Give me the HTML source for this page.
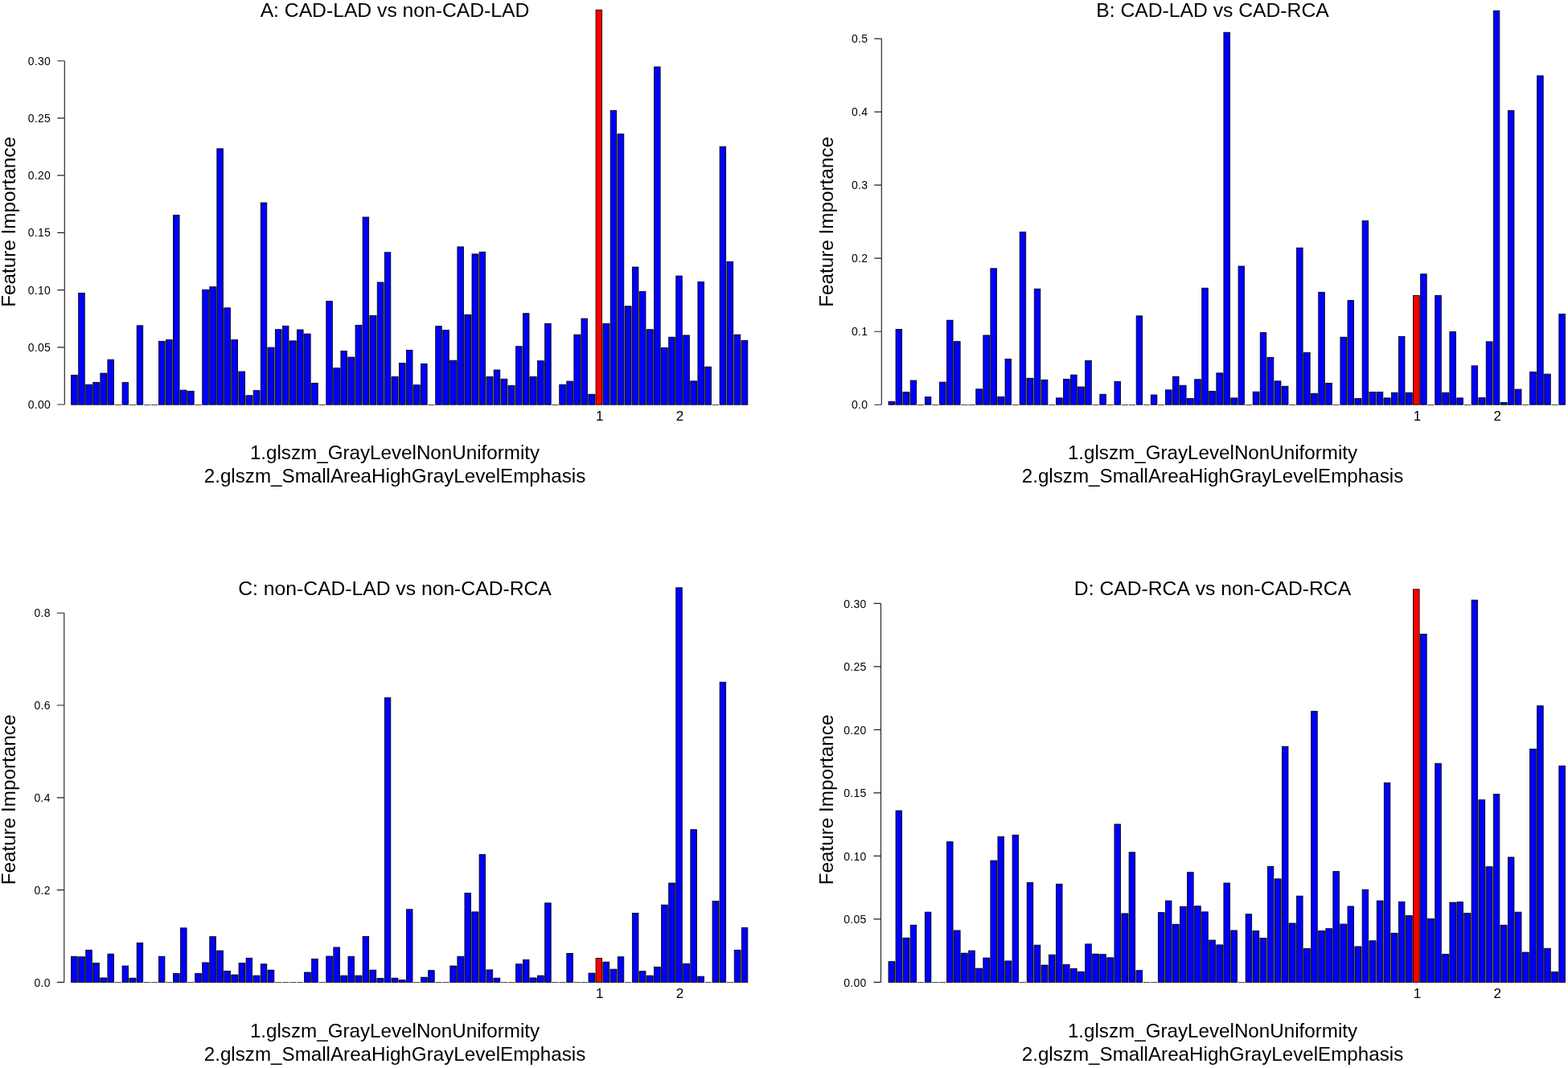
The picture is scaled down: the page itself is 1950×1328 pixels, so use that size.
<!DOCTYPE html>
<html lang="en"><head><meta charset="utf-8"><title>Feature Importance</title>
<style>html,body{margin:0;padding:0;background:#fff}body{width:1950px;height:1328px;overflow:hidden}svg{display:block}text{font-kerning:none;font-family:"Liberation Sans",sans-serif;fill:#000}.t{font-size:24.2px;text-anchor:middle}.s{font-size:14px;letter-spacing:.3px}.h{font-size:24.7px;text-anchor:middle}.x{font-size:17px;text-anchor:middle}.b{fill:#0000ff;stroke:#000;stroke-width:.85}.r{fill:#ff0000;stroke:#000;stroke-width:.85}.g{fill:#a29d5c}.z{stroke:#4a4a4a;stroke-width:1}.ax{stroke:#222;stroke-width:1.15;fill:none}</style></head><body>
<svg width="1950" height="1328" viewBox="0 0 1950 1328">
<rect x="0" y="0" width="1950" height="1328" fill="#ffffff"/>
<g>
<text class="h" x="491.0" y="21.1">A: CAD-LAD vs non-CAD-LAD</text>
<text class="t" style="font-size:24.25px" transform="translate(19.3 275.9) rotate(-90)">Feature Importance</text>
<path class="ax" d="M80.3 75.7V503.0M80.3 503.0h-9M80.3 431.8h-9M80.3 360.6h-9M80.3 289.3h-9M80.3 218.1h-9M80.3 146.9h-9M80.3 75.7h-9"/>
<text class="s" text-anchor="end" x="63.1" y="508.1">0.00</text>
<text class="s" text-anchor="end" x="63.1" y="436.9">0.05</text>
<text class="s" text-anchor="end" x="63.1" y="365.7">0.10</text>
<text class="s" text-anchor="end" x="63.1" y="294.4">0.15</text>
<text class="s" text-anchor="end" x="63.1" y="223.2">0.20</text>
<text class="s" text-anchor="end" x="63.1" y="152.0">0.25</text>
<text class="s" text-anchor="end" x="63.1" y="80.8">0.30</text>
<rect class="g" x="96.18" y="466.41" width="1.51" height="37.09"/>
<rect class="g" x="105.24" y="478.21" width="1.51" height="25.29"/>
<rect class="g" x="114.30" y="478.21" width="1.51" height="25.29"/>
<rect class="g" x="123.36" y="475.38" width="1.51" height="28.12"/>
<rect class="g" x="132.43" y="464.10" width="1.51" height="39.40"/>
<rect class="g" x="204.92" y="424.36" width="1.51" height="79.14"/>
<rect class="g" x="213.98" y="422.56" width="1.51" height="80.94"/>
<rect class="g" x="223.04" y="485.13" width="1.51" height="18.37"/>
<rect class="g" x="232.10" y="486.41" width="1.51" height="17.09"/>
<rect class="g" x="259.29" y="360.26" width="1.51" height="143.24"/>
<rect class="g" x="268.35" y="356.67" width="1.51" height="146.83"/>
<rect class="g" x="277.41" y="382.82" width="1.51" height="120.68"/>
<rect class="g" x="286.47" y="422.56" width="1.51" height="80.94"/>
<rect class="g" x="295.53" y="462.05" width="1.51" height="41.45"/>
<rect class="g" x="304.59" y="491.79" width="1.51" height="11.71"/>
<rect class="g" x="313.66" y="491.79" width="1.51" height="11.71"/>
<rect class="g" x="322.72" y="485.64" width="1.51" height="17.86"/>
<rect class="g" x="331.78" y="432.05" width="1.51" height="71.45"/>
<rect class="g" x="340.84" y="432.05" width="1.51" height="71.45"/>
<rect class="g" x="349.90" y="409.74" width="1.51" height="93.76"/>
<rect class="g" x="358.96" y="423.85" width="1.51" height="79.65"/>
<rect class="g" x="368.03" y="423.85" width="1.51" height="79.65"/>
<rect class="g" x="377.09" y="415.13" width="1.51" height="88.37"/>
<rect class="g" x="386.15" y="476.41" width="1.51" height="27.09"/>
<rect class="g" x="413.33" y="457.69" width="1.51" height="45.81"/>
<rect class="g" x="422.39" y="457.69" width="1.51" height="45.81"/>
<rect class="g" x="431.46" y="444.10" width="1.51" height="59.40"/>
<rect class="g" x="440.52" y="444.10" width="1.51" height="59.40"/>
<rect class="g" x="449.58" y="404.36" width="1.51" height="99.14"/>
<rect class="g" x="458.64" y="392.31" width="1.51" height="111.19"/>
<rect class="g" x="467.70" y="392.31" width="1.51" height="111.19"/>
<rect class="g" x="476.76" y="351.03" width="1.51" height="152.47"/>
<rect class="g" x="485.82" y="468.46" width="1.51" height="35.04"/>
<rect class="g" x="494.89" y="468.46" width="1.51" height="35.04"/>
<rect class="g" x="503.95" y="451.54" width="1.51" height="51.96"/>
<rect class="g" x="513.01" y="478.72" width="1.51" height="24.78"/>
<rect class="g" x="522.07" y="478.72" width="1.51" height="24.78"/>
<rect class="g" x="549.25" y="410.51" width="1.51" height="92.99"/>
<rect class="g" x="558.32" y="448.21" width="1.51" height="55.29"/>
<rect class="g" x="567.38" y="448.21" width="1.51" height="55.29"/>
<rect class="g" x="576.44" y="391.28" width="1.51" height="112.22"/>
<rect class="g" x="585.50" y="391.28" width="1.51" height="112.22"/>
<rect class="g" x="594.56" y="315.90" width="1.51" height="187.60"/>
<rect class="g" x="603.62" y="468.46" width="1.51" height="35.04"/>
<rect class="g" x="612.69" y="468.46" width="1.51" height="35.04"/>
<rect class="g" x="621.75" y="471.28" width="1.51" height="32.22"/>
<rect class="g" x="630.81" y="479.49" width="1.51" height="24.01"/>
<rect class="g" x="639.87" y="479.49" width="1.51" height="24.01"/>
<rect class="g" x="648.93" y="430.77" width="1.51" height="72.73"/>
<rect class="g" x="657.99" y="468.46" width="1.51" height="35.04"/>
<rect class="g" x="667.05" y="468.46" width="1.51" height="35.04"/>
<rect class="g" x="676.12" y="448.72" width="1.51" height="54.78"/>
<rect class="g" x="703.30" y="478.21" width="1.51" height="25.29"/>
<rect class="g" x="712.36" y="474.10" width="1.51" height="29.40"/>
<rect class="g" x="721.42" y="416.15" width="1.51" height="87.35"/>
<rect class="g" x="730.49" y="490.26" width="1.51" height="13.24"/>
<rect class="g" x="739.55" y="490.26" width="1.51" height="13.24"/>
<rect class="g" x="748.61" y="402.31" width="1.51" height="101.19"/>
<rect class="g" x="757.67" y="402.31" width="1.51" height="101.19"/>
<rect class="g" x="766.73" y="166.67" width="1.51" height="336.83"/>
<rect class="g" x="775.79" y="380.77" width="1.51" height="122.73"/>
<rect class="g" x="784.85" y="380.77" width="1.51" height="122.73"/>
<rect class="g" x="793.92" y="362.56" width="1.51" height="140.94"/>
<rect class="g" x="802.98" y="409.74" width="1.51" height="93.76"/>
<rect class="g" x="812.04" y="409.74" width="1.51" height="93.76"/>
<rect class="g" x="821.10" y="432.31" width="1.51" height="71.19"/>
<rect class="g" x="830.16" y="432.31" width="1.51" height="71.19"/>
<rect class="g" x="839.22" y="419.23" width="1.51" height="84.27"/>
<rect class="g" x="848.28" y="416.92" width="1.51" height="86.58"/>
<rect class="g" x="857.35" y="473.85" width="1.51" height="29.65"/>
<rect class="g" x="866.41" y="473.85" width="1.51" height="29.65"/>
<rect class="g" x="875.47" y="456.15" width="1.51" height="47.35"/>
<rect class="g" x="902.65" y="325.38" width="1.51" height="178.12"/>
<rect class="g" x="911.72" y="416.15" width="1.51" height="87.35"/>
<rect class="g" x="920.78" y="423.33" width="1.51" height="80.17"/>
<rect class="b" x="88.63" y="466.41" width="7.55" height="36.79"/>
<rect class="b" x="97.69" y="364.36" width="7.55" height="138.84"/>
<rect class="b" x="106.75" y="478.21" width="7.55" height="24.99"/>
<rect class="b" x="115.81" y="475.38" width="7.55" height="27.82"/>
<rect class="b" x="124.88" y="464.10" width="7.55" height="39.10"/>
<rect class="b" x="133.94" y="447.18" width="7.55" height="56.02"/>
<line class="z" x1="142.70" y1="503.5" x2="150.85" y2="503.5"/>
<rect class="b" x="152.06" y="475.64" width="7.55" height="27.56"/>
<line class="z" x1="160.82" y1="503.5" x2="168.97" y2="503.5"/>
<rect class="b" x="170.18" y="404.87" width="7.55" height="98.33"/>
<line class="z" x1="178.94" y1="503.5" x2="187.10" y2="503.5"/>
<line class="z" x1="188.01" y1="503.5" x2="196.16" y2="503.5"/>
<rect class="b" x="197.37" y="424.36" width="7.55" height="78.84"/>
<rect class="b" x="206.43" y="422.56" width="7.55" height="80.64"/>
<rect class="b" x="215.49" y="267.44" width="7.55" height="235.76"/>
<rect class="b" x="224.55" y="485.13" width="7.55" height="18.07"/>
<rect class="b" x="233.61" y="486.41" width="7.55" height="16.79"/>
<line class="z" x1="242.38" y1="503.5" x2="250.53" y2="503.5"/>
<rect class="b" x="251.74" y="360.26" width="7.55" height="142.94"/>
<rect class="b" x="260.80" y="356.67" width="7.55" height="146.53"/>
<rect class="b" x="269.86" y="184.87" width="7.55" height="318.33"/>
<rect class="b" x="278.92" y="382.82" width="7.55" height="120.38"/>
<rect class="b" x="287.98" y="422.56" width="7.55" height="80.64"/>
<rect class="b" x="297.04" y="462.05" width="7.55" height="41.15"/>
<rect class="b" x="306.11" y="491.79" width="7.55" height="11.41"/>
<rect class="b" x="315.17" y="485.64" width="7.55" height="17.56"/>
<rect class="b" x="324.23" y="252.05" width="7.55" height="251.15"/>
<rect class="b" x="333.29" y="432.05" width="7.55" height="71.15"/>
<rect class="b" x="342.35" y="409.74" width="7.55" height="93.46"/>
<rect class="b" x="351.41" y="405.38" width="7.55" height="97.82"/>
<rect class="b" x="360.48" y="423.85" width="7.55" height="79.35"/>
<rect class="b" x="369.54" y="410.00" width="7.55" height="93.20"/>
<rect class="b" x="378.60" y="415.13" width="7.55" height="88.07"/>
<rect class="b" x="387.66" y="476.41" width="7.55" height="26.79"/>
<line class="z" x1="396.42" y1="503.5" x2="404.57" y2="503.5"/>
<rect class="b" x="405.78" y="374.62" width="7.55" height="128.58"/>
<rect class="b" x="414.84" y="457.69" width="7.55" height="45.51"/>
<rect class="b" x="423.91" y="436.41" width="7.55" height="66.79"/>
<rect class="b" x="432.97" y="444.10" width="7.55" height="59.10"/>
<rect class="b" x="442.03" y="404.36" width="7.55" height="98.84"/>
<rect class="b" x="451.09" y="270.00" width="7.55" height="233.20"/>
<rect class="b" x="460.15" y="392.31" width="7.55" height="110.89"/>
<rect class="b" x="469.21" y="351.03" width="7.55" height="152.17"/>
<rect class="b" x="478.27" y="313.85" width="7.55" height="189.35"/>
<rect class="b" x="487.34" y="468.46" width="7.55" height="34.74"/>
<rect class="b" x="496.40" y="451.54" width="7.55" height="51.66"/>
<rect class="b" x="505.46" y="435.38" width="7.55" height="67.82"/>
<rect class="b" x="514.52" y="478.72" width="7.55" height="24.48"/>
<rect class="b" x="523.58" y="452.31" width="7.55" height="50.89"/>
<line class="z" x1="532.34" y1="503.5" x2="540.49" y2="503.5"/>
<rect class="b" x="541.71" y="405.64" width="7.55" height="97.56"/>
<rect class="b" x="550.77" y="410.51" width="7.55" height="92.69"/>
<rect class="b" x="559.83" y="448.21" width="7.55" height="54.99"/>
<rect class="b" x="568.89" y="306.92" width="7.55" height="196.28"/>
<rect class="b" x="577.95" y="391.28" width="7.55" height="111.92"/>
<rect class="b" x="587.01" y="315.90" width="7.55" height="187.30"/>
<rect class="b" x="596.07" y="313.33" width="7.55" height="189.87"/>
<rect class="b" x="605.14" y="468.46" width="7.55" height="34.74"/>
<rect class="b" x="614.20" y="460.00" width="7.55" height="43.20"/>
<rect class="b" x="623.26" y="471.28" width="7.55" height="31.92"/>
<rect class="b" x="632.32" y="479.49" width="7.55" height="23.71"/>
<rect class="b" x="641.38" y="430.77" width="7.55" height="72.43"/>
<rect class="b" x="650.44" y="389.74" width="7.55" height="113.46"/>
<rect class="b" x="659.50" y="468.46" width="7.55" height="34.74"/>
<rect class="b" x="668.57" y="448.72" width="7.55" height="54.48"/>
<rect class="b" x="677.63" y="402.31" width="7.55" height="100.89"/>
<line class="z" x1="686.39" y1="503.5" x2="694.54" y2="503.5"/>
<rect class="b" x="695.75" y="478.21" width="7.55" height="24.99"/>
<rect class="b" x="704.81" y="474.10" width="7.55" height="29.10"/>
<rect class="b" x="713.87" y="416.15" width="7.55" height="87.05"/>
<rect class="b" x="722.94" y="396.15" width="7.55" height="107.05"/>
<rect class="b" x="732.00" y="490.26" width="7.55" height="12.94"/>
<rect class="r" x="741.06" y="12.31" width="7.55" height="490.89"/>
<rect class="b" x="750.12" y="402.31" width="7.55" height="100.89"/>
<rect class="b" x="759.18" y="137.44" width="7.55" height="365.76"/>
<rect class="b" x="768.24" y="166.67" width="7.55" height="336.53"/>
<rect class="b" x="777.30" y="380.77" width="7.55" height="122.43"/>
<rect class="b" x="786.37" y="332.05" width="7.55" height="171.15"/>
<rect class="b" x="795.43" y="362.56" width="7.55" height="140.64"/>
<rect class="b" x="804.49" y="409.74" width="7.55" height="93.46"/>
<rect class="b" x="813.55" y="83.08" width="7.55" height="420.12"/>
<rect class="b" x="822.61" y="432.31" width="7.55" height="70.89"/>
<rect class="b" x="831.67" y="419.23" width="7.55" height="83.97"/>
<rect class="b" x="840.73" y="343.08" width="7.55" height="160.12"/>
<rect class="b" x="849.80" y="416.92" width="7.55" height="86.28"/>
<rect class="b" x="858.86" y="473.85" width="7.55" height="29.35"/>
<rect class="b" x="867.92" y="350.51" width="7.55" height="152.69"/>
<rect class="b" x="876.98" y="456.15" width="7.55" height="47.05"/>
<line class="z" x1="885.74" y1="503.5" x2="893.89" y2="503.5"/>
<rect class="b" x="895.10" y="182.31" width="7.55" height="320.89"/>
<rect class="b" x="904.17" y="325.38" width="7.55" height="177.82"/>
<rect class="b" x="913.23" y="416.15" width="7.55" height="87.05"/>
<rect class="b" x="922.29" y="423.33" width="7.55" height="79.87"/>
<text class="x" x="745.7" y="522.7">1</text>
<text class="x" x="845.4" y="522.7">2</text>
<text class="t" x="491.0" y="571.0">1.glszm_GrayLevelNonUniformity</text>
<text class="t" x="491.0" y="600.0">2.glszm_SmallAreaHighGrayLevelEmphasis</text>
</g>
<g>
<text class="h" x="1508.0" y="21.1">B: CAD-LAD vs CAD-RCA</text>
<text class="t" style="font-size:24.25px" transform="translate(1036.0 275.9) rotate(-90)">Feature Importance</text>
<path class="ax" d="M1096.3 48.1V503.2M1096.3 503.2h-9M1096.3 412.2h-9M1096.3 321.1h-9M1096.3 230.1h-9M1096.3 139.1h-9M1096.3 48.1h-9"/>
<text class="s" text-anchor="end" x="1079.4" y="508.3">0.0</text>
<text class="s" text-anchor="end" x="1079.4" y="417.3">0.1</text>
<text class="s" text-anchor="end" x="1079.4" y="326.2">0.2</text>
<text class="s" text-anchor="end" x="1079.4" y="235.2">0.3</text>
<text class="s" text-anchor="end" x="1079.4" y="144.2">0.4</text>
<text class="s" text-anchor="end" x="1079.4" y="53.2">0.5</text>
<rect class="g" x="1112.55" y="499.23" width="1.51" height="4.27"/>
<rect class="g" x="1121.61" y="487.69" width="1.51" height="15.81"/>
<rect class="g" x="1130.68" y="487.69" width="1.51" height="15.81"/>
<rect class="g" x="1175.99" y="475.13" width="1.51" height="28.37"/>
<rect class="g" x="1185.06" y="424.62" width="1.51" height="78.88"/>
<rect class="g" x="1221.31" y="483.85" width="1.51" height="19.65"/>
<rect class="g" x="1230.38" y="416.92" width="1.51" height="86.58"/>
<rect class="g" x="1239.44" y="493.33" width="1.51" height="10.17"/>
<rect class="g" x="1248.50" y="493.33" width="1.51" height="10.17"/>
<rect class="g" x="1275.69" y="470.26" width="1.51" height="33.24"/>
<rect class="g" x="1284.76" y="470.26" width="1.51" height="33.24"/>
<rect class="g" x="1293.82" y="472.31" width="1.51" height="31.19"/>
<rect class="g" x="1321.01" y="494.87" width="1.51" height="8.63"/>
<rect class="g" x="1330.07" y="471.54" width="1.51" height="31.96"/>
<rect class="g" x="1339.14" y="481.03" width="1.51" height="22.47"/>
<rect class="g" x="1348.20" y="481.03" width="1.51" height="22.47"/>
<rect class="g" x="1456.96" y="484.87" width="1.51" height="18.63"/>
<rect class="g" x="1466.03" y="479.23" width="1.51" height="24.27"/>
<rect class="g" x="1475.09" y="495.38" width="1.51" height="8.12"/>
<rect class="g" x="1484.15" y="495.38" width="1.51" height="8.12"/>
<rect class="g" x="1493.22" y="471.79" width="1.51" height="31.71"/>
<rect class="g" x="1502.28" y="486.41" width="1.51" height="17.09"/>
<rect class="g" x="1511.34" y="486.41" width="1.51" height="17.09"/>
<rect class="g" x="1520.41" y="463.85" width="1.51" height="39.65"/>
<rect class="g" x="1529.47" y="494.87" width="1.51" height="8.63"/>
<rect class="g" x="1538.53" y="494.87" width="1.51" height="8.63"/>
<rect class="g" x="1565.72" y="487.18" width="1.51" height="16.32"/>
<rect class="g" x="1574.79" y="444.36" width="1.51" height="59.14"/>
<rect class="g" x="1583.85" y="473.85" width="1.51" height="29.65"/>
<rect class="g" x="1592.92" y="480.26" width="1.51" height="23.24"/>
<rect class="g" x="1620.11" y="438.46" width="1.51" height="65.04"/>
<rect class="g" x="1629.17" y="489.23" width="1.51" height="14.27"/>
<rect class="g" x="1638.23" y="489.23" width="1.51" height="14.27"/>
<rect class="g" x="1647.30" y="476.41" width="1.51" height="27.09"/>
<rect class="g" x="1674.49" y="419.23" width="1.51" height="84.27"/>
<rect class="g" x="1683.55" y="495.38" width="1.51" height="8.12"/>
<rect class="g" x="1692.61" y="495.38" width="1.51" height="8.12"/>
<rect class="g" x="1701.68" y="487.44" width="1.51" height="16.06"/>
<rect class="g" x="1710.74" y="487.44" width="1.51" height="16.06"/>
<rect class="g" x="1719.80" y="494.87" width="1.51" height="8.63"/>
<rect class="g" x="1728.87" y="494.87" width="1.51" height="8.63"/>
<rect class="g" x="1737.93" y="488.21" width="1.51" height="15.29"/>
<rect class="g" x="1746.99" y="488.21" width="1.51" height="15.29"/>
<rect class="g" x="1756.06" y="488.21" width="1.51" height="15.29"/>
<rect class="g" x="1765.12" y="367.44" width="1.51" height="136.06"/>
<rect class="g" x="1792.31" y="488.21" width="1.51" height="15.29"/>
<rect class="g" x="1801.38" y="488.21" width="1.51" height="15.29"/>
<rect class="g" x="1810.44" y="494.87" width="1.51" height="8.63"/>
<rect class="g" x="1837.63" y="494.62" width="1.51" height="8.88"/>
<rect class="g" x="1846.69" y="494.62" width="1.51" height="8.88"/>
<rect class="g" x="1855.76" y="424.87" width="1.51" height="78.63"/>
<rect class="g" x="1864.82" y="500.51" width="1.51" height="2.99"/>
<rect class="g" x="1873.88" y="500.51" width="1.51" height="2.99"/>
<rect class="g" x="1882.95" y="484.10" width="1.51" height="19.40"/>
<rect class="g" x="1910.14" y="462.56" width="1.51" height="40.94"/>
<rect class="g" x="1919.20" y="465.13" width="1.51" height="38.37"/>
<rect class="b" x="1105.00" y="499.23" width="7.55" height="3.97"/>
<rect class="b" x="1114.06" y="409.49" width="7.55" height="93.71"/>
<rect class="b" x="1123.13" y="487.69" width="7.55" height="15.51"/>
<rect class="b" x="1132.19" y="473.08" width="7.55" height="30.12"/>
<line class="z" x1="1140.95" y1="503.5" x2="1149.10" y2="503.5"/>
<rect class="b" x="1150.32" y="493.59" width="7.55" height="9.61"/>
<line class="z" x1="1159.08" y1="503.5" x2="1167.23" y2="503.5"/>
<rect class="b" x="1168.44" y="475.13" width="7.55" height="28.07"/>
<rect class="b" x="1177.51" y="398.21" width="7.55" height="104.99"/>
<rect class="b" x="1186.57" y="424.62" width="7.55" height="78.58"/>
<line class="z" x1="1195.34" y1="503.5" x2="1203.48" y2="503.5"/>
<line class="z" x1="1204.40" y1="503.5" x2="1212.55" y2="503.5"/>
<rect class="b" x="1213.76" y="483.85" width="7.55" height="19.35"/>
<rect class="b" x="1222.83" y="416.92" width="7.55" height="86.28"/>
<rect class="b" x="1231.89" y="333.85" width="7.55" height="169.35"/>
<rect class="b" x="1240.95" y="493.33" width="7.55" height="9.87"/>
<rect class="b" x="1250.02" y="446.41" width="7.55" height="56.79"/>
<line class="z" x1="1258.78" y1="503.5" x2="1266.93" y2="503.5"/>
<rect class="b" x="1268.14" y="288.46" width="7.55" height="214.74"/>
<rect class="b" x="1277.21" y="470.26" width="7.55" height="32.94"/>
<rect class="b" x="1286.27" y="359.23" width="7.55" height="143.97"/>
<rect class="b" x="1295.33" y="472.31" width="7.55" height="30.89"/>
<line class="z" x1="1304.10" y1="503.5" x2="1312.25" y2="503.5"/>
<rect class="b" x="1313.46" y="494.87" width="7.55" height="8.33"/>
<rect class="b" x="1322.52" y="471.54" width="7.55" height="31.66"/>
<rect class="b" x="1331.59" y="466.15" width="7.55" height="37.05"/>
<rect class="b" x="1340.65" y="481.03" width="7.55" height="22.17"/>
<rect class="b" x="1349.71" y="448.46" width="7.55" height="54.74"/>
<line class="z" x1="1358.48" y1="503.5" x2="1366.63" y2="503.5"/>
<rect class="b" x="1367.84" y="490.26" width="7.55" height="12.94"/>
<line class="z" x1="1376.61" y1="503.5" x2="1384.75" y2="503.5"/>
<rect class="b" x="1385.97" y="474.36" width="7.55" height="28.84"/>
<line class="z" x1="1394.73" y1="503.5" x2="1402.88" y2="503.5"/>
<line class="z" x1="1403.80" y1="503.5" x2="1411.95" y2="503.5"/>
<rect class="b" x="1413.16" y="392.82" width="7.55" height="110.38"/>
<line class="z" x1="1421.92" y1="503.5" x2="1430.07" y2="503.5"/>
<rect class="b" x="1431.29" y="491.03" width="7.55" height="12.17"/>
<line class="z" x1="1440.05" y1="503.5" x2="1448.20" y2="503.5"/>
<rect class="b" x="1449.41" y="484.87" width="7.55" height="18.33"/>
<rect class="b" x="1458.48" y="468.21" width="7.55" height="34.99"/>
<rect class="b" x="1467.54" y="479.23" width="7.55" height="23.97"/>
<rect class="b" x="1476.60" y="495.38" width="7.55" height="7.82"/>
<rect class="b" x="1485.67" y="471.79" width="7.55" height="31.41"/>
<rect class="b" x="1494.73" y="358.21" width="7.55" height="144.99"/>
<rect class="b" x="1503.79" y="486.41" width="7.55" height="16.79"/>
<rect class="b" x="1512.86" y="463.85" width="7.55" height="39.35"/>
<rect class="b" x="1521.92" y="40.26" width="7.55" height="462.94"/>
<rect class="b" x="1530.98" y="494.87" width="7.55" height="8.33"/>
<rect class="b" x="1540.05" y="331.03" width="7.55" height="172.17"/>
<line class="z" x1="1548.81" y1="503.5" x2="1556.96" y2="503.5"/>
<rect class="b" x="1558.17" y="487.18" width="7.55" height="16.02"/>
<rect class="b" x="1567.24" y="413.59" width="7.55" height="89.61"/>
<rect class="b" x="1576.30" y="444.36" width="7.55" height="58.84"/>
<rect class="b" x="1585.37" y="473.85" width="7.55" height="29.35"/>
<rect class="b" x="1594.43" y="480.26" width="7.55" height="22.94"/>
<line class="z" x1="1603.19" y1="503.5" x2="1611.34" y2="503.5"/>
<rect class="b" x="1612.56" y="308.21" width="7.55" height="194.99"/>
<rect class="b" x="1621.62" y="438.46" width="7.55" height="64.74"/>
<rect class="b" x="1630.68" y="489.23" width="7.55" height="13.97"/>
<rect class="b" x="1639.75" y="363.33" width="7.55" height="139.87"/>
<rect class="b" x="1648.81" y="476.41" width="7.55" height="26.79"/>
<line class="z" x1="1657.57" y1="503.5" x2="1665.72" y2="503.5"/>
<rect class="b" x="1666.94" y="419.23" width="7.55" height="83.97"/>
<rect class="b" x="1676.00" y="373.59" width="7.55" height="129.61"/>
<rect class="b" x="1685.06" y="495.38" width="7.55" height="7.82"/>
<rect class="b" x="1694.13" y="274.62" width="7.55" height="228.58"/>
<rect class="b" x="1703.19" y="487.44" width="7.55" height="15.76"/>
<rect class="b" x="1712.25" y="487.44" width="7.55" height="15.76"/>
<rect class="b" x="1721.32" y="494.87" width="7.55" height="8.33"/>
<rect class="b" x="1730.38" y="488.21" width="7.55" height="14.99"/>
<rect class="b" x="1739.44" y="418.46" width="7.55" height="84.74"/>
<rect class="b" x="1748.51" y="488.21" width="7.55" height="14.99"/>
<rect class="r" x="1757.57" y="367.44" width="7.55" height="135.76"/>
<rect class="b" x="1766.64" y="340.77" width="7.55" height="162.43"/>
<line class="z" x1="1775.40" y1="503.5" x2="1783.55" y2="503.5"/>
<rect class="b" x="1784.76" y="367.44" width="7.55" height="135.76"/>
<rect class="b" x="1793.83" y="488.21" width="7.55" height="14.99"/>
<rect class="b" x="1802.89" y="412.56" width="7.55" height="90.64"/>
<rect class="b" x="1811.95" y="494.87" width="7.55" height="8.33"/>
<line class="z" x1="1820.72" y1="503.5" x2="1828.87" y2="503.5"/>
<rect class="b" x="1830.08" y="454.87" width="7.55" height="48.33"/>
<rect class="b" x="1839.14" y="494.62" width="7.55" height="8.58"/>
<rect class="b" x="1848.21" y="424.87" width="7.55" height="78.33"/>
<rect class="b" x="1857.27" y="13.33" width="7.55" height="489.87"/>
<rect class="b" x="1866.33" y="500.51" width="7.55" height="2.69"/>
<rect class="b" x="1875.40" y="137.44" width="7.55" height="365.76"/>
<rect class="b" x="1884.46" y="484.10" width="7.55" height="19.10"/>
<line class="z" x1="1893.22" y1="503.5" x2="1901.37" y2="503.5"/>
<rect class="b" x="1902.59" y="462.56" width="7.55" height="40.64"/>
<rect class="b" x="1911.65" y="94.10" width="7.55" height="409.10"/>
<rect class="b" x="1920.71" y="465.13" width="7.55" height="38.07"/>
<line class="z" x1="1929.48" y1="503.5" x2="1937.63" y2="503.5"/>
<rect class="b" x="1938.84" y="390.51" width="7.55" height="112.69"/>
<text class="x" x="1762.5" y="522.7">1</text>
<text class="x" x="1862.2" y="522.7">2</text>
<text class="t" x="1508.0" y="571.0">1.glszm_GrayLevelNonUniformity</text>
<text class="t" x="1508.0" y="600.0">2.glszm_SmallAreaHighGrayLevelEmphasis</text>
</g>
<g>
<text class="h" x="491.0" y="739.5">C: non-CAD-LAD vs non-CAD-RCA</text>
<text class="t" style="font-size:24.25px" transform="translate(19.3 994.4) rotate(-90)">Feature Importance</text>
<path class="ax" d="M79.8 762.2V1221.4M79.8 1221.4h-9M79.8 1106.6h-9M79.8 991.8h-9M79.8 877.0h-9M79.8 762.2h-9"/>
<text class="s" text-anchor="end" x="62.8" y="1226.5">0.0</text>
<text class="s" text-anchor="end" x="62.8" y="1111.7">0.2</text>
<text class="s" text-anchor="end" x="62.8" y="996.9">0.4</text>
<text class="s" text-anchor="end" x="62.8" y="882.1">0.6</text>
<text class="s" text-anchor="end" x="62.8" y="767.3">0.8</text>
<rect class="g" x="96.18" y="1189.79" width="1.51" height="31.91"/>
<rect class="g" x="105.24" y="1189.79" width="1.51" height="31.91"/>
<rect class="g" x="114.30" y="1197.49" width="1.51" height="24.21"/>
<rect class="g" x="123.36" y="1215.95" width="1.51" height="5.75"/>
<rect class="g" x="132.43" y="1215.95" width="1.51" height="5.75"/>
<rect class="g" x="159.61" y="1216.21" width="1.51" height="5.49"/>
<rect class="g" x="168.67" y="1216.21" width="1.51" height="5.49"/>
<rect class="g" x="223.04" y="1210.56" width="1.51" height="11.14"/>
<rect class="g" x="250.23" y="1210.56" width="1.51" height="11.14"/>
<rect class="g" x="259.29" y="1196.97" width="1.51" height="24.73"/>
<rect class="g" x="268.35" y="1182.10" width="1.51" height="39.60"/>
<rect class="g" x="277.41" y="1207.49" width="1.51" height="14.21"/>
<rect class="g" x="286.47" y="1212.10" width="1.51" height="9.60"/>
<rect class="g" x="295.53" y="1212.10" width="1.51" height="9.60"/>
<rect class="g" x="304.59" y="1197.49" width="1.51" height="24.21"/>
<rect class="g" x="313.66" y="1213.13" width="1.51" height="8.57"/>
<rect class="g" x="322.72" y="1213.13" width="1.51" height="8.57"/>
<rect class="g" x="331.78" y="1206.21" width="1.51" height="15.49"/>
<rect class="g" x="386.15" y="1209.03" width="1.51" height="12.67"/>
<rect class="g" x="413.33" y="1189.03" width="1.51" height="32.67"/>
<rect class="g" x="422.39" y="1213.13" width="1.51" height="8.57"/>
<rect class="g" x="431.46" y="1213.13" width="1.51" height="8.57"/>
<rect class="g" x="440.52" y="1213.13" width="1.51" height="8.57"/>
<rect class="g" x="449.58" y="1213.13" width="1.51" height="8.57"/>
<rect class="g" x="458.64" y="1206.21" width="1.51" height="15.49"/>
<rect class="g" x="467.70" y="1216.46" width="1.51" height="5.24"/>
<rect class="g" x="476.76" y="1216.46" width="1.51" height="5.24"/>
<rect class="g" x="485.82" y="1216.21" width="1.51" height="5.49"/>
<rect class="g" x="494.89" y="1218.51" width="1.51" height="3.19"/>
<rect class="g" x="503.95" y="1218.51" width="1.51" height="3.19"/>
<rect class="g" x="531.13" y="1215.18" width="1.51" height="6.52"/>
<rect class="g" x="567.38" y="1201.08" width="1.51" height="20.62"/>
<rect class="g" x="576.44" y="1189.28" width="1.51" height="32.42"/>
<rect class="g" x="585.50" y="1133.90" width="1.51" height="87.80"/>
<rect class="g" x="594.56" y="1133.90" width="1.51" height="87.80"/>
<rect class="g" x="603.62" y="1205.95" width="1.51" height="15.75"/>
<rect class="g" x="612.69" y="1216.21" width="1.51" height="5.49"/>
<rect class="g" x="648.93" y="1198.77" width="1.51" height="22.93"/>
<rect class="g" x="657.99" y="1215.95" width="1.51" height="5.75"/>
<rect class="g" x="667.05" y="1215.95" width="1.51" height="5.75"/>
<rect class="g" x="676.12" y="1213.13" width="1.51" height="8.57"/>
<rect class="g" x="739.55" y="1210.05" width="1.51" height="11.65"/>
<rect class="g" x="748.61" y="1196.21" width="1.51" height="25.49"/>
<rect class="g" x="757.67" y="1205.18" width="1.51" height="16.52"/>
<rect class="g" x="766.73" y="1205.18" width="1.51" height="16.52"/>
<rect class="g" x="793.92" y="1207.74" width="1.51" height="13.96"/>
<rect class="g" x="802.98" y="1213.13" width="1.51" height="8.57"/>
<rect class="g" x="812.04" y="1213.13" width="1.51" height="8.57"/>
<rect class="g" x="821.10" y="1202.36" width="1.51" height="19.34"/>
<rect class="g" x="830.16" y="1125.18" width="1.51" height="96.52"/>
<rect class="g" x="839.22" y="1098.00" width="1.51" height="123.70"/>
<rect class="g" x="848.28" y="1198.26" width="1.51" height="23.44"/>
<rect class="g" x="857.35" y="1198.26" width="1.51" height="23.44"/>
<rect class="g" x="866.41" y="1214.15" width="1.51" height="7.55"/>
<rect class="g" x="893.59" y="1120.56" width="1.51" height="101.14"/>
<rect class="g" x="920.78" y="1181.33" width="1.51" height="40.37"/>
<rect class="b" x="88.63" y="1189.28" width="7.55" height="32.12"/>
<rect class="b" x="97.69" y="1189.79" width="7.55" height="31.61"/>
<rect class="b" x="106.75" y="1181.33" width="7.55" height="40.07"/>
<rect class="b" x="115.81" y="1197.49" width="7.55" height="23.91"/>
<rect class="b" x="124.88" y="1215.95" width="7.55" height="5.45"/>
<rect class="b" x="133.94" y="1186.21" width="7.55" height="35.19"/>
<line class="z" x1="142.70" y1="1221.5" x2="150.85" y2="1221.5"/>
<rect class="b" x="152.06" y="1201.08" width="7.55" height="20.32"/>
<rect class="b" x="161.12" y="1216.21" width="7.55" height="5.19"/>
<rect class="b" x="170.18" y="1172.36" width="7.55" height="49.04"/>
<line class="z" x1="178.94" y1="1221.5" x2="187.10" y2="1221.5"/>
<line class="z" x1="188.01" y1="1221.5" x2="196.16" y2="1221.5"/>
<rect class="b" x="197.37" y="1189.28" width="7.55" height="32.12"/>
<line class="z" x1="206.13" y1="1221.5" x2="214.28" y2="1221.5"/>
<rect class="b" x="215.49" y="1210.56" width="7.55" height="10.84"/>
<rect class="b" x="224.55" y="1153.90" width="7.55" height="67.50"/>
<line class="z" x1="233.31" y1="1221.5" x2="241.46" y2="1221.5"/>
<rect class="b" x="242.68" y="1210.56" width="7.55" height="10.84"/>
<rect class="b" x="251.74" y="1196.97" width="7.55" height="24.43"/>
<rect class="b" x="260.80" y="1164.67" width="7.55" height="56.73"/>
<rect class="b" x="269.86" y="1182.10" width="7.55" height="39.30"/>
<rect class="b" x="278.92" y="1207.49" width="7.55" height="13.91"/>
<rect class="b" x="287.98" y="1212.10" width="7.55" height="9.30"/>
<rect class="b" x="297.04" y="1197.49" width="7.55" height="23.91"/>
<rect class="b" x="306.11" y="1191.33" width="7.55" height="30.07"/>
<rect class="b" x="315.17" y="1213.13" width="7.55" height="8.27"/>
<rect class="b" x="324.23" y="1198.77" width="7.55" height="22.63"/>
<rect class="b" x="333.29" y="1206.21" width="7.55" height="15.19"/>
<line class="z" x1="342.05" y1="1221.5" x2="350.20" y2="1221.5"/>
<line class="z" x1="351.11" y1="1221.5" x2="359.26" y2="1221.5"/>
<line class="z" x1="360.18" y1="1221.5" x2="368.33" y2="1221.5"/>
<line class="z" x1="369.24" y1="1221.5" x2="377.39" y2="1221.5"/>
<rect class="b" x="378.60" y="1209.03" width="7.55" height="12.37"/>
<rect class="b" x="387.66" y="1192.36" width="7.55" height="29.04"/>
<line class="z" x1="396.42" y1="1221.5" x2="404.57" y2="1221.5"/>
<rect class="b" x="405.78" y="1189.03" width="7.55" height="32.37"/>
<rect class="b" x="414.84" y="1178.00" width="7.55" height="43.40"/>
<rect class="b" x="423.91" y="1213.13" width="7.55" height="8.27"/>
<rect class="b" x="432.97" y="1189.28" width="7.55" height="32.12"/>
<rect class="b" x="442.03" y="1213.13" width="7.55" height="8.27"/>
<rect class="b" x="451.09" y="1164.41" width="7.55" height="56.99"/>
<rect class="b" x="460.15" y="1206.21" width="7.55" height="15.19"/>
<rect class="b" x="469.21" y="1216.46" width="7.55" height="4.94"/>
<rect class="b" x="478.27" y="867.69" width="7.55" height="353.71"/>
<rect class="b" x="487.34" y="1216.21" width="7.55" height="5.19"/>
<rect class="b" x="496.40" y="1218.51" width="7.55" height="2.89"/>
<rect class="b" x="505.46" y="1130.82" width="7.55" height="90.58"/>
<line class="z" x1="514.22" y1="1221.5" x2="522.37" y2="1221.5"/>
<rect class="b" x="523.58" y="1215.18" width="7.55" height="6.22"/>
<rect class="b" x="532.64" y="1206.72" width="7.55" height="14.68"/>
<line class="z" x1="541.41" y1="1221.5" x2="549.55" y2="1221.5"/>
<line class="z" x1="550.47" y1="1221.5" x2="558.62" y2="1221.5"/>
<rect class="b" x="559.83" y="1201.08" width="7.55" height="20.32"/>
<rect class="b" x="568.89" y="1189.28" width="7.55" height="32.12"/>
<rect class="b" x="577.95" y="1110.56" width="7.55" height="110.84"/>
<rect class="b" x="587.01" y="1133.90" width="7.55" height="87.50"/>
<rect class="b" x="596.07" y="1062.62" width="7.55" height="158.78"/>
<rect class="b" x="605.14" y="1205.95" width="7.55" height="15.45"/>
<rect class="b" x="614.20" y="1216.21" width="7.55" height="5.19"/>
<line class="z" x1="622.96" y1="1221.5" x2="631.11" y2="1221.5"/>
<line class="z" x1="632.02" y1="1221.5" x2="640.17" y2="1221.5"/>
<rect class="b" x="641.38" y="1198.77" width="7.55" height="22.63"/>
<rect class="b" x="650.44" y="1193.38" width="7.55" height="28.02"/>
<rect class="b" x="659.50" y="1215.95" width="7.55" height="5.45"/>
<rect class="b" x="668.57" y="1213.13" width="7.55" height="8.27"/>
<rect class="b" x="677.63" y="1122.87" width="7.55" height="98.53"/>
<line class="z" x1="686.39" y1="1221.5" x2="694.54" y2="1221.5"/>
<line class="z" x1="695.45" y1="1221.5" x2="703.60" y2="1221.5"/>
<rect class="b" x="704.81" y="1185.44" width="7.55" height="35.96"/>
<line class="z" x1="713.57" y1="1221.5" x2="721.72" y2="1221.5"/>
<line class="z" x1="722.64" y1="1221.5" x2="730.78" y2="1221.5"/>
<rect class="b" x="732.00" y="1210.05" width="7.55" height="11.35"/>
<rect class="r" x="741.06" y="1191.59" width="7.55" height="29.81"/>
<rect class="b" x="750.12" y="1196.21" width="7.55" height="25.19"/>
<rect class="b" x="759.18" y="1205.18" width="7.55" height="16.22"/>
<rect class="b" x="768.24" y="1189.79" width="7.55" height="31.61"/>
<line class="z" x1="777.00" y1="1221.5" x2="785.15" y2="1221.5"/>
<rect class="b" x="786.37" y="1135.44" width="7.55" height="85.96"/>
<rect class="b" x="795.43" y="1207.74" width="7.55" height="13.66"/>
<rect class="b" x="804.49" y="1213.13" width="7.55" height="8.27"/>
<rect class="b" x="813.55" y="1202.36" width="7.55" height="19.04"/>
<rect class="b" x="822.61" y="1125.18" width="7.55" height="96.22"/>
<rect class="b" x="831.67" y="1098.00" width="7.55" height="123.40"/>
<rect class="b" x="840.73" y="730.77" width="7.55" height="490.63"/>
<rect class="b" x="849.80" y="1198.26" width="7.55" height="23.14"/>
<rect class="b" x="858.86" y="1031.59" width="7.55" height="189.81"/>
<rect class="b" x="867.92" y="1214.15" width="7.55" height="7.25"/>
<line class="z" x1="876.68" y1="1221.5" x2="884.83" y2="1221.5"/>
<rect class="b" x="886.04" y="1120.56" width="7.55" height="100.84"/>
<rect class="b" x="895.10" y="848.21" width="7.55" height="373.19"/>
<line class="z" x1="903.87" y1="1221.5" x2="912.01" y2="1221.5"/>
<rect class="b" x="913.23" y="1181.33" width="7.55" height="40.07"/>
<rect class="b" x="922.29" y="1153.64" width="7.55" height="67.76"/>
<text class="x" x="745.7" y="1240.9">1</text>
<text class="x" x="845.4" y="1240.9">2</text>
<text class="t" x="491.0" y="1289.6">1.glszm_GrayLevelNonUniformity</text>
<text class="t" x="491.0" y="1318.6">2.glszm_SmallAreaHighGrayLevelEmphasis</text>
</g>
<g>
<text class="h" x="1508.0" y="739.5">D: CAD-RCA vs non-CAD-RCA</text>
<text class="t" style="font-size:24.25px" transform="translate(1036.0 994.4) rotate(-90)">Feature Importance</text>
<path class="ax" d="M1095.5 750.4V1221.4M1095.5 1221.4h-9M1095.5 1142.9h-9M1095.5 1064.4h-9M1095.5 985.9h-9M1095.5 907.4h-9M1095.5 828.9h-9M1095.5 750.4h-9"/>
<text class="s" text-anchor="end" x="1077.7" y="1226.5">0.00</text>
<text class="s" text-anchor="end" x="1077.7" y="1148.0">0.05</text>
<text class="s" text-anchor="end" x="1077.7" y="1069.5">0.10</text>
<text class="s" text-anchor="end" x="1077.7" y="991.0">0.15</text>
<text class="s" text-anchor="end" x="1077.7" y="912.5">0.20</text>
<text class="s" text-anchor="end" x="1077.7" y="834.0">0.25</text>
<text class="s" text-anchor="end" x="1077.7" y="755.5">0.30</text>
<rect class="g" x="1112.55" y="1195.69" width="1.51" height="26.01"/>
<rect class="g" x="1121.61" y="1166.21" width="1.51" height="55.49"/>
<rect class="g" x="1130.68" y="1166.21" width="1.51" height="55.49"/>
<rect class="g" x="1185.06" y="1156.97" width="1.51" height="64.73"/>
<rect class="g" x="1194.12" y="1185.18" width="1.51" height="36.52"/>
<rect class="g" x="1203.18" y="1185.18" width="1.51" height="36.52"/>
<rect class="g" x="1212.25" y="1204.15" width="1.51" height="17.55"/>
<rect class="g" x="1221.31" y="1204.15" width="1.51" height="17.55"/>
<rect class="g" x="1230.38" y="1191.08" width="1.51" height="30.62"/>
<rect class="g" x="1239.44" y="1070.05" width="1.51" height="151.65"/>
<rect class="g" x="1248.50" y="1194.92" width="1.51" height="26.78"/>
<rect class="g" x="1257.57" y="1194.92" width="1.51" height="26.78"/>
<rect class="g" x="1284.76" y="1175.18" width="1.51" height="46.52"/>
<rect class="g" x="1293.82" y="1200.05" width="1.51" height="21.65"/>
<rect class="g" x="1302.88" y="1200.05" width="1.51" height="21.65"/>
<rect class="g" x="1311.95" y="1187.23" width="1.51" height="34.47"/>
<rect class="g" x="1321.01" y="1199.28" width="1.51" height="22.42"/>
<rect class="g" x="1330.07" y="1204.41" width="1.51" height="17.29"/>
<rect class="g" x="1339.14" y="1208.26" width="1.51" height="13.44"/>
<rect class="g" x="1348.20" y="1208.26" width="1.51" height="13.44"/>
<rect class="g" x="1357.26" y="1186.21" width="1.51" height="35.49"/>
<rect class="g" x="1366.33" y="1186.72" width="1.51" height="34.98"/>
<rect class="g" x="1375.39" y="1190.82" width="1.51" height="30.88"/>
<rect class="g" x="1384.45" y="1190.82" width="1.51" height="30.88"/>
<rect class="g" x="1393.52" y="1135.95" width="1.51" height="85.75"/>
<rect class="g" x="1402.58" y="1135.95" width="1.51" height="85.75"/>
<rect class="g" x="1411.65" y="1206.72" width="1.51" height="14.98"/>
<rect class="g" x="1447.90" y="1134.67" width="1.51" height="87.03"/>
<rect class="g" x="1456.96" y="1149.28" width="1.51" height="72.42"/>
<rect class="g" x="1466.03" y="1149.28" width="1.51" height="72.42"/>
<rect class="g" x="1475.09" y="1127.23" width="1.51" height="94.47"/>
<rect class="g" x="1484.15" y="1126.72" width="1.51" height="94.98"/>
<rect class="g" x="1493.22" y="1133.90" width="1.51" height="87.80"/>
<rect class="g" x="1502.28" y="1169.03" width="1.51" height="52.67"/>
<rect class="g" x="1511.34" y="1174.92" width="1.51" height="46.78"/>
<rect class="g" x="1520.41" y="1174.92" width="1.51" height="46.78"/>
<rect class="g" x="1529.47" y="1156.97" width="1.51" height="64.73"/>
<rect class="g" x="1556.66" y="1157.49" width="1.51" height="64.21"/>
<rect class="g" x="1565.72" y="1166.46" width="1.51" height="55.24"/>
<rect class="g" x="1574.79" y="1166.46" width="1.51" height="55.24"/>
<rect class="g" x="1583.85" y="1092.87" width="1.51" height="128.83"/>
<rect class="g" x="1592.92" y="1092.87" width="1.51" height="128.83"/>
<rect class="g" x="1601.98" y="1148.00" width="1.51" height="73.70"/>
<rect class="g" x="1611.04" y="1148.00" width="1.51" height="73.70"/>
<rect class="g" x="1620.11" y="1179.54" width="1.51" height="42.16"/>
<rect class="g" x="1629.17" y="1179.54" width="1.51" height="42.16"/>
<rect class="g" x="1638.23" y="1157.49" width="1.51" height="64.21"/>
<rect class="g" x="1647.30" y="1157.49" width="1.51" height="64.21"/>
<rect class="g" x="1656.36" y="1154.67" width="1.51" height="67.03"/>
<rect class="g" x="1665.42" y="1149.03" width="1.51" height="72.67"/>
<rect class="g" x="1674.49" y="1149.03" width="1.51" height="72.67"/>
<rect class="g" x="1683.55" y="1176.97" width="1.51" height="44.73"/>
<rect class="g" x="1692.61" y="1176.97" width="1.51" height="44.73"/>
<rect class="g" x="1701.68" y="1169.79" width="1.51" height="51.91"/>
<rect class="g" x="1710.74" y="1169.79" width="1.51" height="51.91"/>
<rect class="g" x="1719.80" y="1120.05" width="1.51" height="101.65"/>
<rect class="g" x="1728.87" y="1160.31" width="1.51" height="61.39"/>
<rect class="g" x="1737.93" y="1160.31" width="1.51" height="61.39"/>
<rect class="g" x="1746.99" y="1138.51" width="1.51" height="83.19"/>
<rect class="g" x="1756.06" y="1138.51" width="1.51" height="83.19"/>
<rect class="g" x="1765.12" y="788.46" width="1.51" height="433.24"/>
<rect class="g" x="1774.19" y="1142.36" width="1.51" height="79.34"/>
<rect class="g" x="1783.25" y="1142.36" width="1.51" height="79.34"/>
<rect class="g" x="1792.31" y="1186.46" width="1.51" height="35.24"/>
<rect class="g" x="1801.38" y="1186.46" width="1.51" height="35.24"/>
<rect class="g" x="1810.44" y="1122.10" width="1.51" height="99.60"/>
<rect class="g" x="1819.50" y="1135.44" width="1.51" height="86.26"/>
<rect class="g" x="1828.57" y="1135.44" width="1.51" height="86.26"/>
<rect class="g" x="1837.63" y="994.62" width="1.51" height="227.08"/>
<rect class="g" x="1846.69" y="1077.74" width="1.51" height="143.96"/>
<rect class="g" x="1855.76" y="1077.74" width="1.51" height="143.96"/>
<rect class="g" x="1864.82" y="1150.31" width="1.51" height="71.39"/>
<rect class="g" x="1873.88" y="1150.31" width="1.51" height="71.39"/>
<rect class="g" x="1882.95" y="1134.15" width="1.51" height="87.55"/>
<rect class="g" x="1892.01" y="1184.15" width="1.51" height="37.55"/>
<rect class="g" x="1901.07" y="1184.15" width="1.51" height="37.55"/>
<rect class="g" x="1910.14" y="931.28" width="1.51" height="290.42"/>
<rect class="g" x="1919.20" y="1179.28" width="1.51" height="42.42"/>
<rect class="g" x="1928.26" y="1208.51" width="1.51" height="13.19"/>
<rect class="g" x="1937.33" y="1208.51" width="1.51" height="13.19"/>
<rect class="b" x="1105.00" y="1195.69" width="7.55" height="25.71"/>
<rect class="b" x="1114.06" y="1008.00" width="7.55" height="213.40"/>
<rect class="b" x="1123.13" y="1166.21" width="7.55" height="55.19"/>
<rect class="b" x="1132.19" y="1150.31" width="7.55" height="71.09"/>
<line class="z" x1="1140.95" y1="1221.5" x2="1149.10" y2="1221.5"/>
<rect class="b" x="1150.32" y="1134.15" width="7.55" height="87.25"/>
<line class="z" x1="1159.08" y1="1221.5" x2="1167.23" y2="1221.5"/>
<line class="z" x1="1168.14" y1="1221.5" x2="1176.29" y2="1221.5"/>
<rect class="b" x="1177.51" y="1046.72" width="7.55" height="174.68"/>
<rect class="b" x="1186.57" y="1156.97" width="7.55" height="64.43"/>
<rect class="b" x="1195.63" y="1185.18" width="7.55" height="36.22"/>
<rect class="b" x="1204.70" y="1182.10" width="7.55" height="39.30"/>
<rect class="b" x="1213.76" y="1204.15" width="7.55" height="17.25"/>
<rect class="b" x="1222.83" y="1191.08" width="7.55" height="30.32"/>
<rect class="b" x="1231.89" y="1070.05" width="7.55" height="151.35"/>
<rect class="b" x="1240.95" y="1040.31" width="7.55" height="181.09"/>
<rect class="b" x="1250.02" y="1194.92" width="7.55" height="26.48"/>
<rect class="b" x="1259.08" y="1038.26" width="7.55" height="183.14"/>
<line class="z" x1="1267.84" y1="1221.5" x2="1275.99" y2="1221.5"/>
<rect class="b" x="1277.21" y="1097.49" width="7.55" height="123.91"/>
<rect class="b" x="1286.27" y="1175.18" width="7.55" height="46.22"/>
<rect class="b" x="1295.33" y="1200.05" width="7.55" height="21.35"/>
<rect class="b" x="1304.40" y="1187.23" width="7.55" height="34.17"/>
<rect class="b" x="1313.46" y="1099.28" width="7.55" height="122.12"/>
<rect class="b" x="1322.52" y="1199.28" width="7.55" height="22.12"/>
<rect class="b" x="1331.59" y="1204.41" width="7.55" height="16.99"/>
<rect class="b" x="1340.65" y="1208.26" width="7.55" height="13.14"/>
<rect class="b" x="1349.71" y="1173.90" width="7.55" height="47.50"/>
<rect class="b" x="1358.78" y="1186.21" width="7.55" height="35.19"/>
<rect class="b" x="1367.84" y="1186.72" width="7.55" height="34.68"/>
<rect class="b" x="1376.90" y="1190.82" width="7.55" height="30.58"/>
<rect class="b" x="1385.97" y="1024.92" width="7.55" height="196.48"/>
<rect class="b" x="1395.03" y="1135.95" width="7.55" height="85.45"/>
<rect class="b" x="1404.10" y="1059.79" width="7.55" height="161.61"/>
<rect class="b" x="1413.16" y="1206.72" width="7.55" height="14.68"/>
<line class="z" x1="1421.92" y1="1221.5" x2="1430.07" y2="1221.5"/>
<line class="z" x1="1430.99" y1="1221.5" x2="1439.14" y2="1221.5"/>
<rect class="b" x="1440.35" y="1134.67" width="7.55" height="86.73"/>
<rect class="b" x="1449.41" y="1120.05" width="7.55" height="101.35"/>
<rect class="b" x="1458.48" y="1149.28" width="7.55" height="72.12"/>
<rect class="b" x="1467.54" y="1127.23" width="7.55" height="94.17"/>
<rect class="b" x="1476.60" y="1084.67" width="7.55" height="136.73"/>
<rect class="b" x="1485.67" y="1126.72" width="7.55" height="94.68"/>
<rect class="b" x="1494.73" y="1133.90" width="7.55" height="87.50"/>
<rect class="b" x="1503.79" y="1169.03" width="7.55" height="52.37"/>
<rect class="b" x="1512.86" y="1174.92" width="7.55" height="46.48"/>
<rect class="b" x="1521.92" y="1098.00" width="7.55" height="123.40"/>
<rect class="b" x="1530.98" y="1156.97" width="7.55" height="64.43"/>
<line class="z" x1="1539.75" y1="1221.5" x2="1547.90" y2="1221.5"/>
<rect class="b" x="1549.11" y="1136.72" width="7.55" height="84.68"/>
<rect class="b" x="1558.17" y="1157.49" width="7.55" height="63.91"/>
<rect class="b" x="1567.24" y="1166.46" width="7.55" height="54.94"/>
<rect class="b" x="1576.30" y="1077.49" width="7.55" height="143.91"/>
<rect class="b" x="1585.37" y="1092.87" width="7.55" height="128.53"/>
<rect class="b" x="1594.43" y="928.21" width="7.55" height="293.19"/>
<rect class="b" x="1603.49" y="1148.00" width="7.55" height="73.40"/>
<rect class="b" x="1612.56" y="1114.15" width="7.55" height="107.25"/>
<rect class="b" x="1621.62" y="1179.54" width="7.55" height="41.86"/>
<rect class="b" x="1630.68" y="884.36" width="7.55" height="337.04"/>
<rect class="b" x="1639.75" y="1157.49" width="7.55" height="63.91"/>
<rect class="b" x="1648.81" y="1154.67" width="7.55" height="66.73"/>
<rect class="b" x="1657.87" y="1083.64" width="7.55" height="137.76"/>
<rect class="b" x="1666.94" y="1149.03" width="7.55" height="72.37"/>
<rect class="b" x="1676.00" y="1126.97" width="7.55" height="94.43"/>
<rect class="b" x="1685.06" y="1176.97" width="7.55" height="44.43"/>
<rect class="b" x="1694.13" y="1106.21" width="7.55" height="115.19"/>
<rect class="b" x="1703.19" y="1169.79" width="7.55" height="51.61"/>
<rect class="b" x="1712.25" y="1120.05" width="7.55" height="101.35"/>
<rect class="b" x="1721.32" y="973.33" width="7.55" height="248.07"/>
<rect class="b" x="1730.38" y="1160.31" width="7.55" height="61.09"/>
<rect class="b" x="1739.44" y="1121.33" width="7.55" height="100.07"/>
<rect class="b" x="1748.51" y="1138.51" width="7.55" height="82.89"/>
<rect class="r" x="1757.57" y="732.82" width="7.55" height="488.58"/>
<rect class="b" x="1766.64" y="788.46" width="7.55" height="432.94"/>
<rect class="b" x="1775.70" y="1142.36" width="7.55" height="79.04"/>
<rect class="b" x="1784.76" y="949.23" width="7.55" height="272.17"/>
<rect class="b" x="1793.83" y="1186.46" width="7.55" height="34.94"/>
<rect class="b" x="1802.89" y="1122.10" width="7.55" height="99.30"/>
<rect class="b" x="1811.95" y="1121.59" width="7.55" height="99.81"/>
<rect class="b" x="1821.02" y="1135.44" width="7.55" height="85.96"/>
<rect class="b" x="1830.08" y="746.15" width="7.55" height="475.25"/>
<rect class="b" x="1839.14" y="994.62" width="7.55" height="226.78"/>
<rect class="b" x="1848.21" y="1077.74" width="7.55" height="143.66"/>
<rect class="b" x="1857.27" y="987.44" width="7.55" height="233.96"/>
<rect class="b" x="1866.33" y="1150.31" width="7.55" height="71.09"/>
<rect class="b" x="1875.40" y="1065.95" width="7.55" height="155.45"/>
<rect class="b" x="1884.46" y="1134.15" width="7.55" height="87.25"/>
<rect class="b" x="1893.52" y="1184.15" width="7.55" height="37.25"/>
<rect class="b" x="1902.59" y="931.28" width="7.55" height="290.12"/>
<rect class="b" x="1911.65" y="877.69" width="7.55" height="343.71"/>
<rect class="b" x="1920.71" y="1179.28" width="7.55" height="42.12"/>
<rect class="b" x="1929.78" y="1208.51" width="7.55" height="12.89"/>
<rect class="b" x="1938.84" y="952.31" width="7.55" height="269.09"/>
<text class="x" x="1762.5" y="1240.9">1</text>
<text class="x" x="1862.2" y="1240.9">2</text>
<text class="t" x="1508.0" y="1289.6">1.glszm_GrayLevelNonUniformity</text>
<text class="t" x="1508.0" y="1318.6">2.glszm_SmallAreaHighGrayLevelEmphasis</text>
</g>
</svg></body></html>
